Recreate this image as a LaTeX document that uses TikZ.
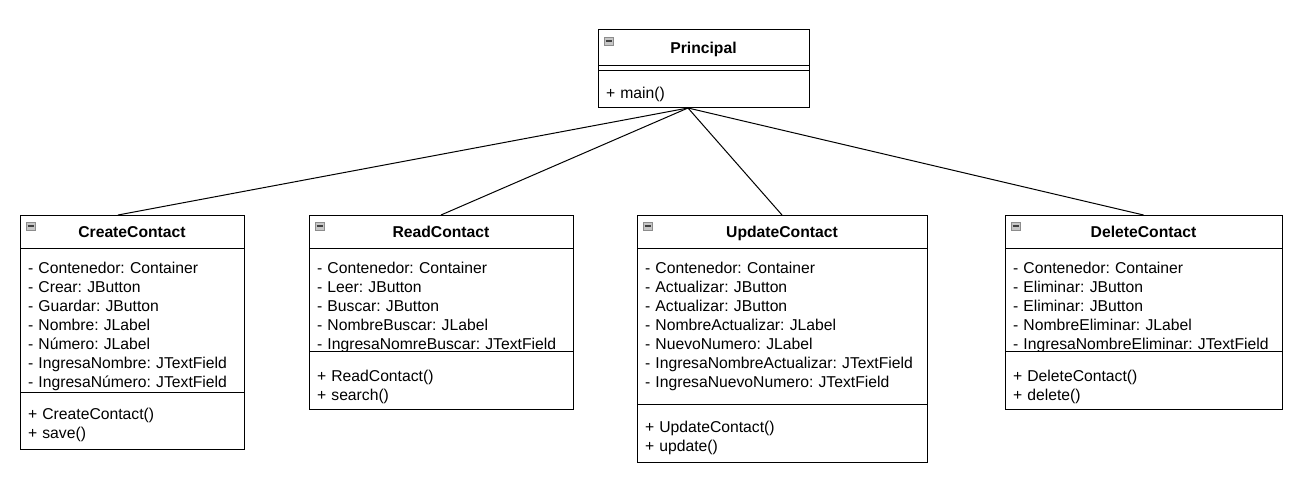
\documentclass[tikz,border=0pt]{standalone}
\usepackage{fontspec}
\setmainfont{Liberation Sans}
\usetikzlibrary{positioning}

\begin{document}
\frenchspacing
\begin{tikzpicture}[x=1pt, y=-1pt, line width=1pt,
    every node/.style={font=\fontsize{15.7}{19}\selectfont},
    ttl/.style={rectangle, draw, fill=white, outer sep=0pt, inner sep=0pt, minimum height=33pt,
        text height=11pt, text depth=0pt, font=\fontsize{15.7}{19}\selectfont\bfseries,
        path picture={
            \draw[gray!90, fill=gray!45, line width=0.8pt] ([shift={(6pt,-7pt)}]path picture bounding box.north west) rectangle ++(9pt,-8pt);
            \draw[black!75, line width=1.4pt] ([shift={(7.5pt,-11pt)}]path picture bounding box.north west) -- ++(6pt,0pt);}},
    cpt/.style={rectangle, draw, fill=white, outer sep=0pt, inner xsep=8pt, inner ysep=0pt, align=left}]
    \useasboundingbox (0,0) rectangle (1303,481);

    % main class
    \node[ttl, minimum width=211pt, minimum height=36pt, anchor=north west] (pr) at (598,30) {Principal};
    \node[cpt, text width=195pt, text height=0pt, text depth=5pt, below=0pt of pr] (prA) {};
    \node[cpt, text width=195pt, text height=28pt, text depth=9pt, below=0pt of prA] (prM) {+ main()};

    % CRUD classes
    \node[ttl, minimum width=224pt, anchor=north west] (cc) at (20,215) {CreateContact};
    \node[cpt, text width=208pt, text height=25pt, text depth=119pt, below=0pt of cc] (ccA) {- Contenedor: Container\\- Crear: JButton\\- Guardar: JButton\\- Nombre: JLabel\\- Número: JLabel\\- IngresaNombre: JTextField\\- IngresaNúmero: JTextField};
    \node[cpt, text width=208pt, text height=27.5pt, text depth=29.5pt, below=0pt of ccA] (ccM) {+ CreateContact()\\+ save()};

    \node[ttl, minimum width=264pt, anchor=north west] (rc) at (309,215) {ReadContact};
    \node[cpt, text width=248pt, text height=25pt, text depth=78pt, below=0pt of rc] (rcA) {- Contenedor: Container\\- Leer: JButton\\- Buscar: JButton\\- NombreBuscar: JLabel\\- IngresaNomreBuscar: JTextField};
    \node[cpt, text width=248pt, text height=30pt, text depth=28pt, below=0pt of rcA] (rcM) {+ ReadContact()\\+ search()};

    \node[ttl, minimum width=290pt, anchor=north west] (uc) at (637,215) {UpdateContact};
    \node[cpt, text width=274pt, text height=25pt, text depth=131pt, below=0pt of uc] (ucA) {- Contenedor: Container\\- Actualizar: JButton\\- Actualizar: JButton\\- NombreActualizar: JLabel\\- NuevoNumero: JLabel\\- IngresaNombreActualizar: JTextField\\- IngresaNuevoNumero: JTextField};
    \node[cpt, text width=274pt, text height=28.5pt, text depth=29.5pt, below=0pt of ucA] (ucM) {+ UpdateContact()\\+ update()};

    \node[ttl, minimum width=277pt, anchor=north west] (dc) at (1005,215) {DeleteContact};
    \node[cpt, text width=261pt, text height=25pt, text depth=78pt, below=0pt of dc] (dcA) {- Contenedor: Container\\- Eliminar: JButton\\- Eliminar: JButton\\- NombreEliminar: JLabel\\- IngresaNombreEliminar: JTextField};
    \node[cpt, text width=261pt, text height=30pt, text depth=28pt, below=0pt of dcA] (dcM) {+ DeleteContact()\\+ delete()};

    % links
    \coordinate (hub) at ([xshift=-15.5pt]prM.south);
    \draw (hub) -- ([xshift=-14pt]cc.north);
    \draw (hub) -- (rc.north);
    \draw (hub) -- (uc.north);
    \draw (hub) -- (dc.north);
\end{tikzpicture}
\end{document}
